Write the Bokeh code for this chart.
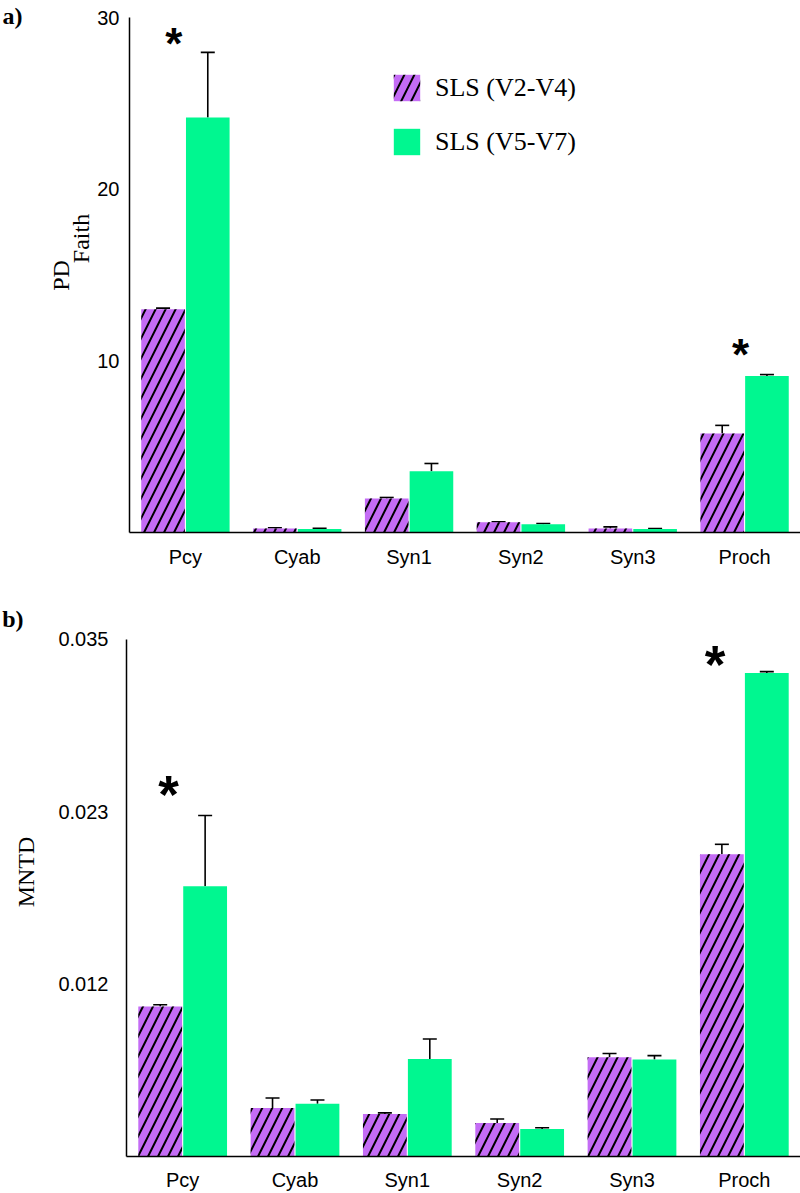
import numpy as np
from bokeh.plotting import figure
from bokeh.models import (ColumnDataSource, FactorRange, Range1d, FixedTicker,
                          PrintfTickFormatter, Whisker, TeeHead, Legend, LegendItem)
from bokeh.transform import dodge
from bokeh.layouts import column, row
from bokeh.embed import file_html
from bokeh.resources import INLINE
from bokeh.core.properties import value

# ---------------- data ----------------
categories = ["Pcy", "Cyab", "Syn1", "Syn2", "Syn3", "Proch"]
series_names = ["SLS (V2-V4)", "SLS (V5-V7)"]

# panel a) PD Faith : mean and top of error bar
pd_v24 = [13.0, 0.23, 1.98, 0.60, 0.23, 5.77]
pd_v24_err = [13.07, 0.28, 2.04, 0.62, 0.33, 6.24]
pd_v57 = [24.18, 0.20, 3.57, 0.48, 0.20, 9.11]
pd_v57_err = [27.97, 0.24, 4.02, 0.52, 0.23, 9.20]

# panel b) MNTD : mean and top of error bar
mntd_v24 = [0.01016, 0.00328, 0.00288, 0.00227, 0.00672, 0.02045]
mntd_v24_err = [0.01027, 0.00396, 0.00295, 0.00254, 0.00697, 0.02113]
mntd_v57 = [0.0183, 0.00357, 0.0066, 0.00186, 0.00656, 0.03273]
mntd_v57_err = [0.02308, 0.00382, 0.00795, 0.00195, 0.00683, 0.03282]

pd_max = 30
mntd_max = 0.035
pd_ticks = [10, 20, 30]
mntd_ticks = [0.035 / 3, 0.07 / 3, 0.035]   # shown as 0.012, 0.023, 0.035
significant = ["Pcy", "Proch"]

PURPLE = "#c46cf5"
GREEN = "#00f790"
SERIF = "Liberation Serif"
SANS = "Liberation Sans"

W = 800
AXIS_X = 126      # page x of the y axis line


def make_panel(v1, e1, v2, e2, ymax, axis_px, ticks, fmt, left_w, height, bottom,
               tick_standoff, standoff, star_specs, star_size, legend=False):
    frame_h = height - bottom
    # the frame reaches the top of the canvas; the axis line is bounded to [0, ymax]
    y_end = ymax * frame_h / axis_px
    p = figure(x_range=FactorRange(*categories), y_range=Range1d(0, y_end),
               width=W - left_w, height=height, output_backend="svg",
               toolbar_location=None, min_border_left=AXIS_X - left_w,
               min_border_right=0, min_border_top=0, min_border_bottom=bottom)
    p.outline_line_color = None
    p.xgrid.visible = False
    p.ygrid.visible = False

    src = ColumnDataSource(dict(cat=categories, v1=v1, e1=e1, v2=v2, e2=e2))
    r1 = p.vbar(x=dodge("cat", -0.2, range=p.x_range), top="v1", width=0.39, source=src,
                fill_color=PURPLE, line_color=None, hatch_pattern="/",
                hatch_color="black", hatch_weight=2, hatch_scale=20)
    r2 = p.vbar(x=dodge("cat", 0.2, range=p.x_range), top="v2", width=0.39, source=src,
                fill_color=GREEN, line_color=None)

    for off, lo, hi in ((-0.2, "v1", "e1"), (0.2, "v2", "e2")):
        w = Whisker(source=src, base=dodge("cat", off, range=p.x_range), lower=lo, upper=hi,
                    line_color="black", line_width=1.6, lower_head=None,
                    upper_head=TeeHead(size=14, line_color="black", line_width=1.6))
        p.add_layout(w)

    # significance stars above the highest error bar of the group
    for cat, xoff, gap in star_specs:
        i = categories.index(cat)
        top_val = max(e1[i], e2[i])
        s = ColumnDataSource(dict(cat=[cat], y=[top_val], t=["*"]))
        p.text(x=dodge("cat", xoff, range=p.x_range), y="y", text="t", source=s,
               text_font=value(SANS), text_font_style="bold",
               text_font_size=f"{star_size}px", text_align="center",
               text_baseline="alphabetic",
               y_offset=0.13 * star_size - gap, text_color="black")

    p.yaxis.ticker = FixedTicker(ticks=ticks)
    p.yaxis.bounds = (0, ymax)
    if fmt is not None:
        p.yaxis.formatter = PrintfTickFormatter(format=fmt)
    for ax in (p.xaxis[0], p.yaxis[0]):
        ax.axis_line_width = 1.5
        ax.axis_line_color = "black"
        ax.major_tick_line_color = None
        ax.minor_tick_line_color = None
        ax.major_tick_out = 0
        ax.major_tick_in = 0
        ax.major_label_text_font = SANS
        ax.major_label_text_color = "black"
    p.yaxis.major_label_text_font_size = "20px"
    p.yaxis.major_label_standoff = tick_standoff
    p.xaxis.major_label_text_font_size = "20px"
    p.xaxis.major_label_standoff = standoff

    if legend:
        lg = Legend(items=[LegendItem(label=series_names[0], renderers=[r1]),
                           LegendItem(label=series_names[1], renderers=[r2])],
                    location=(261, 374), glyph_width=33, glyph_height=33,
                    label_height=33, spacing=21, padding=0, margin=0,
                    label_standoff=12, border_line_color=None,
                    background_fill_alpha=0, label_text_font=SERIF,
                    label_text_font_size="26px", label_text_color="black")
        p.add_layout(lg)
    return p


def title_strip(width, height, bottom, texts):
    """Narrow figure left of a panel carrying the axis title and the panel letter.
    Its y range is in pixels from the top of the canvas (frame = canvas minus bottom)."""
    f = figure(width=width, height=height, output_backend="svg", toolbar_location=None,
               x_range=Range1d(0, width), y_range=Range1d(height - bottom, 0),
               x_axis_location=None, y_axis_location=None,
               min_border_left=0, min_border_right=0, min_border_top=0,
               min_border_bottom=bottom)
    f.outline_line_color = None
    f.xgrid.visible = False
    f.ygrid.visible = False
    for txt, x, y, ang, align, bold in texts:
        f.text(x=[x], y=[y], text=[txt], angle=ang, text_align=align,
               text_baseline="middle", text_font=value(SERIF),
               text_font_style="bold" if bold else "normal",
               text_font_size="24px", text_color="black")
    return f


LA, LB = 94, 50
HA, HB = 580, 613
BA, BB = 48, 36

pa = make_panel(pd_v24, pd_v24_err, pd_v57, pd_v57_err, pd_max, 515, pd_ticks, None,
                LA, HA, BA, 10, 13,
                [("Pcy", -0.104, 15), ("Proch", -0.036, 26)], 44, legend=True)
pb = make_panel(mntd_v24, mntd_v24_err, mntd_v57, mntd_v57_err, mntd_max, 518, mntd_ticks,
                "%.3f", LB, HB, BB, 18, 12,
                [("Pcy", -0.125, 28), ("Proch", -0.26, 14)], 53)

ta = title_strip(LA, HA, BA, [("a)", 22, 15, 0.0, "right", True),
                              ("PD", 60, 275, np.pi / 2, "center", False),
                              ("Faith", 80, 238, np.pi / 2, "center", False)])
tb = title_strip(LB, HB, BB, [("b)", 23, 39, 0.0, "right", True),
                              ("MNTD", 25, 292, np.pi / 2, "center", False)])

layout = column(row(ta, pa), row(tb, pb))
open("out.html", "w").write(file_html(layout, INLINE))
